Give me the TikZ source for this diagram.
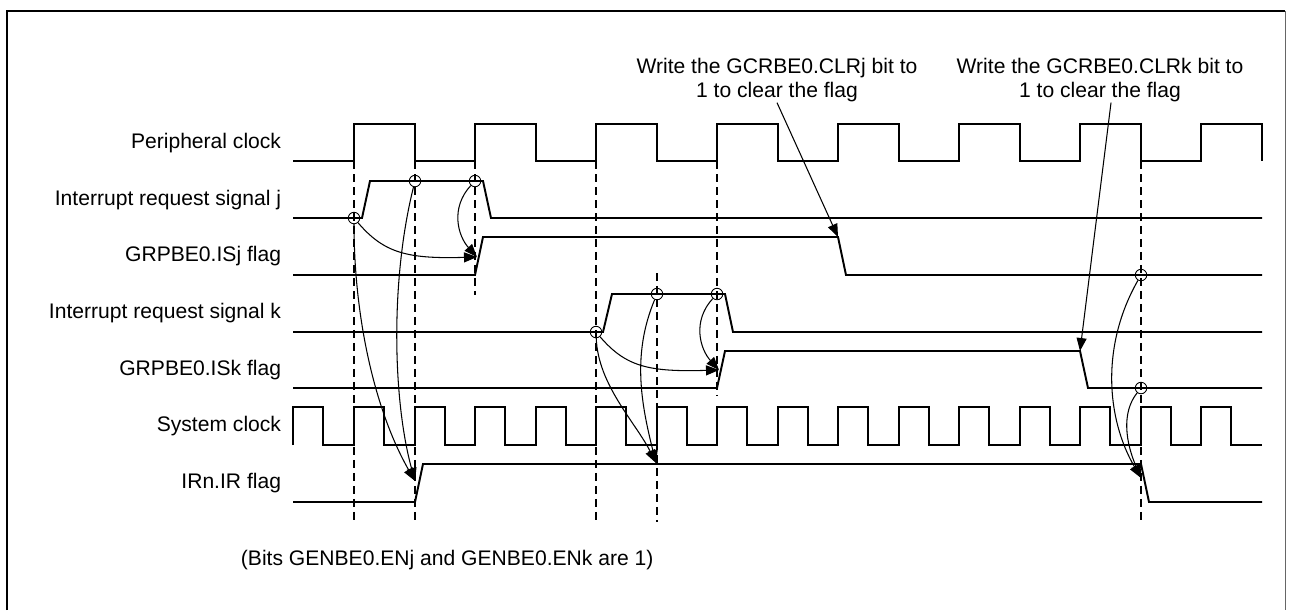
\documentclass[tikz,border=0pt]{standalone}
\usepackage{fontspec}
\setmainfont{Liberation Sans}
\usetikzlibrary{arrows.meta}

\begin{document}
\begin{tikzpicture}[x=0.02cm,y=-0.02cm,line width=1.1pt,>={Triangle[length=2.6mm,width=2mm]},
  lbl/.style={anchor=east,inner sep=0pt,font=\fontsize{12}{14}\selectfont},
  txt/.style={align=center,inner sep=0pt,font=\fontsize{12}{13.5}\selectfont},
  ring/.style={circle,draw,line width=0.5pt,minimum size=2.3mm,inner sep=0pt},
  flow/.style={->,line width=0.6pt},
  sync/.style={line width=1.3pt,dash pattern=on 1.6mm off 1mm}]
  \useasboundingbox (0,0) rectangle (1291,610);
  % ===================== marco =====================
  \draw[line width=1.5pt] (7,610)--(7,11)--(1285,11);
  \draw[line width=0.5pt,black!60] (1285,11)--(1285,610);
  % ===================== etiquetas =====================
  \node[lbl] (pclk) at (282,143){Peripheral clock};
  \node[lbl] (irqj) at (282,200){Interrupt request signal j};
  \node[lbl] (isj) at (282,256){GRPBE0.ISj flag};
  \node[lbl] (irqk) at (282,313){Interrupt request signal k};
  \node[lbl] (isk) at (282,370){GRPBE0.ISk flag};
  \node[lbl] (sclk) at (282,426){System clock};
  \node[lbl] (irf) at (282,483){IRn.IR flag};
  \node[txt] (clrj) at (777,80){Write the GCRBE0.CLRj bit to\\1 to clear the flag};
  \node[txt] (clrk) at (1100,80){Write the GCRBE0.CLRk bit to\\1 to clear the flag};
  \node[anchor=west,inner sep=0pt,font=\fontsize{12}{14}\selectfont] (bits) at (240,560){(Bits GENBE0.ENj and GENBE0.ENk are 1)};
  % ===================== lineas de sincronismo =====================
  \draw[sync] (354,161)--(354,522);
  \draw[sync] (415,161)--(415,522);
  \draw[sync] (475,161)--(475,295);
  \draw[sync] (596,161)--(596,522);
  \draw[sync] (657,273)--(657,522);
  \draw[sync] (717,161)--(717,395);
  \draw[sync] (1141,161)--(1141,522);
  % ===================== formas de onda =====================
  % reloj periferico
  \draw (293,161) -| (354,124) -| (415,161) -| (475,124) -| (536,161) -| (596,124) -| (657,161) -| (717,124) -| (778,161)
    -| (838,124) -| (899,161) -| (959,124) -| (1020,161) -| (1080,124) -| (1141,161) -| (1201,124) -| (1262,161);
  % peticion j y bandera ISj
  \draw (293,218)--(362,218)--(370,181)--(483,181)--(491,218)--(1262,218);
  \draw (293,275)--(475,275)--(483,237)--(838,237)--(846,275)--(1262,275);
  % peticion k y bandera ISk
  \draw (293,332)--(603,332)--(612,294)--(725,294)--(733,332)--(1262,332);
  \draw (293,388)--(717,388)--(725,351)--(1080,351)--(1088,388)--(1262,388);
  % reloj del sistema
  \draw (293,445)--(293,407) -| (323,445) -| (354,407) -| (384,445) -| (415,407) -| (445,445) -| (475,407) -| (505,445)
    -| (536,407) -| (566,445) -| (596,407) -| (626,445) -| (657,407) -| (687,445) -| (717,407) -| (747,445) -| (778,407)
    -| (808,445) -| (838,407) -| (868,445) -| (899,407) -| (929,445) -| (959,407) -| (989,445) -| (1020,407) -| (1050,445)
    -| (1080,407) -| (1110,445) -| (1141,407) -| (1171,445) -| (1201,407) -| (1231,445)--(1262,445);
  % bandera IR
  \draw (293,502)--(415,502)--(423,464)--(1141,464)--(1149,502)--(1262,502);
  % ===================== marcas y destinos =====================
  \node[ring] (cj1) at (354,218){}; \node[ring] (cj2) at (415,181){}; \node[ring] (cj3) at (475,181){};
  \node[ring] (ck1) at (596,332){}; \node[ring] (ck2) at (657,294){}; \node[ring] (ck3) at (717,294){};
  \node[ring] (cc1) at (1141,275){}; \node[ring] (cc2) at (1141,388){};
  \coordinate (isjup) at (477,257); \coordinate (iskup) at (719,370);
  \coordinate (irup) at (415,481); \coordinate (irk) at (656,463);
  \coordinate (isjdn) at (838,237); \coordinate (iskdn) at (1080,351); \coordinate (irdn) at (1141,478);
  % ===================== flechas =====================
  \draw[flow] (cj1) .. controls +(30,35) and +(-70,2) .. (isjup);
  \draw[flow] (cj3) .. controls +(-25,27) and +(-19,-21) .. (isjup);
  \draw[flow] (cj1) .. controls +(0,100) and +(-40,-70) .. (irup);
  \draw[flow] (cj2) .. controls +(-25,100) and +(-22,-80) .. (irup);
  \draw[flow] (ck1) .. controls +(30,35) and +(-70,2) .. (iskup);
  \draw[flow] (ck3) .. controls +(-25,27) and +(-19,-21) .. (iskup);
  \draw[flow] (ck1) .. controls +(2,53) and +(-20,-40) .. (irk);
  \draw[flow] (ck2) .. controls +(-25,60) and +(-15,-60) .. (irk);
  \draw[flow] (clrj.south)--(isjdn);
  \draw[flow] ([xshift=2.2mm]clrk.south)--(iskdn);
  \draw[flow] (cc1) .. controls +(-40,70) and +(-35,-60) .. (irdn);
  \draw[flow] (cc2) .. controls +(-20,25) and +(-15,-35) .. (irdn);
\end{tikzpicture}
\end{document}
